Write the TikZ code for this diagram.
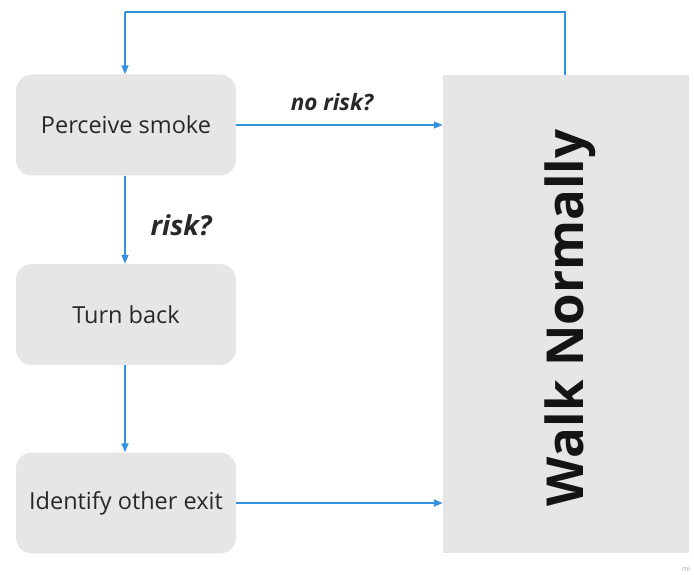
\documentclass[tikz,border=0pt]{standalone}
\usepackage{fontspec}
\setmainfont{Open Sans}
\usetikzlibrary{arrows.meta}
\definecolor{boxgray}{RGB}{230,230,230}
\definecolor{txtgray}{RGB}{40,40,40}
\definecolor{flowblue}{RGB}{52,146,222}
\tikzset{
  stepbox/.style={fill=boxgray, draw=none, rounded corners=16pt, minimum width=220pt,
    minimum height=101pt, inner sep=0pt, text=txtgray, font=\fontsize{23.5}{28}\selectfont},
  flow/.style={draw=flowblue, line width=1.6pt, -{Triangle[length=9pt,width=7pt]}},
  cond/.style={text=txtgray, inner sep=0pt}
}
\begin{document}
\begin{tikzpicture}[x=1pt, y=-1pt]
  \useasboundingbox (0,0) rectangle (694,575);
  \node[stepbox] (perceive) at (126,125) {Perceive smoke};
  \node[stepbox] (turn) at (126,314.5) {Turn back};
  \node[stepbox] (identify) at (126,503) {Identify other exit};
  \node[fill=boxgray, draw=none, minimum width=246pt, minimum height=478pt, inner sep=0pt] (walk) at (566,314) {};
  \node[rotate=90, text=black!92, font=\fontsize{51}{55}\selectfont\bfseries] (walklabel) at ([shift={(4,4)}]walk.center) {Walk Normally};

  \coordinate (loopA) at (565,12);
  \coordinate (loopB) at (125,12);
  \draw[flow, -] (walk.north -| loopA) -- (loopA) -- (loopB);
  \draw[flow] (loopB) -- (perceive.north -| loopB);

  \draw[flow] (perceive.east) -- (walk.west |- perceive.east);
  \node[cond, font=\fontsize{22.5}{26}\selectfont\bfseries\itshape] (norisk) at (332,102) {no risk?};
  \draw[flow] (perceive.south -| 125,0) -- (turn.north -| 125,0);
  \node[cond, font=\fontsize{27.5}{32}\selectfont\bfseries\itshape] (risk) at (181,225) {risk?};
  \draw[flow] (turn.south -| 125,0) -- (identify.north -| 125,0);
  \draw[flow] (identify.east) -- (walk.west |- identify.east);

  \node[text=black!35, font=\fontsize{7}{8}\selectfont] (mark) at (686,569) {mi};
\end{tikzpicture}
\end{document}
